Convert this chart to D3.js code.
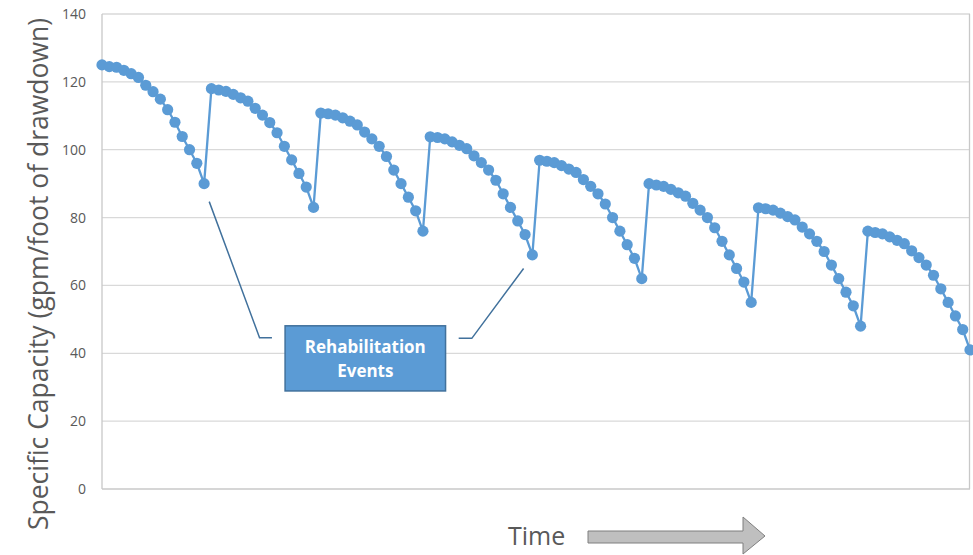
<!DOCTYPE html>
<html>
<head>
<meta charset="utf-8">
<script src="https://cdn.jsdelivr.net/npm/d3@7"></script>
<style>
  html, body { margin: 0; padding: 0; background: #fff; }
  svg { display: block; }
</style>
</head>
<body>
<svg id="chart" width="973" height="555"></svg>
<script>
// Specific capacity readings, one per time step; each group of 15 is one
// decline period that ends just before a rehabilitation event.
const capacity = [
  125.0, 124.5, 124.3, 123.4, 122.4, 121.3, 119.0, 117.1, 114.9, 111.8, 108.1, 103.9, 100.0, 96.0, 90.0,
  118.0, 117.6, 117.2, 116.3, 115.3, 114.3, 112.2, 110.2, 108.0, 105.0, 101.0, 97.0, 93.0, 89.0, 83.0,
  110.8, 110.6, 110.2, 109.4, 108.4, 107.3, 105.2, 103.2, 101.0, 98.0, 94.0, 90.0, 86.0, 82.0, 76.0,
  103.8, 103.6, 103.2, 102.3, 101.3, 100.3, 98.2, 96.2, 94.0, 91.0, 87.0, 83.0, 79.0, 75.0, 69.0,
  96.9, 96.6, 96.2, 95.3, 94.3, 93.3, 91.2, 89.2, 87.0, 84.0, 80.0, 76.0, 72.0, 68.0, 62.0,
  90.0, 89.6, 89.2, 88.3, 87.3, 86.3, 84.2, 82.2, 80.0, 77.0, 73.0, 69.0, 65.0, 61.0, 55.0,
  82.9, 82.6, 82.2, 81.3, 80.3, 79.3, 77.2, 75.2, 73.0, 70.0, 66.0, 62.0, 58.0, 54.0, 48.0,
  76.0, 75.6, 75.2, 74.3, 73.3, 72.3, 70.2, 68.2, 66.0, 63.0, 59.0, 55.0, 51.0, 47.0, 41.0
];

const yTicks = [0, 20, 40, 60, 80, 100, 120, 140];
const yTitle = "Specific Capacity (gpm/foot of drawdown)";
const xTitle = "Time";
const calloutLines = ["Rehabilitation", "Events"];

// Callout geometry in data units (time step, capacity)
const calloutBox = { x0: 25.1, x1: 47.1, y0: 28.9, y1: 48.1 };
const leaderLeft = [[14.7, 84.7], [21.6, 44.6], [23.3, 44.6]];
const leaderRight = [[48.9, 44.4], [50.7, 44.4], [57.8, 65.0]];

const svg = d3.select("#chart");
const plot = { left: 102, right: 970, top: 14, bottom: 489 };

const x = d3.scaleLinear().domain([0, capacity.length - 1]).range([plot.left, plot.right]);
const y = d3.scaleLinear().domain([0, 140]).range([plot.bottom, plot.top]);

const blue = "#5b9bd5";
const darkBlue = "#41719c";
const textGrey = "#595959";

// Horizontal gridlines
svg.append("g")
  .selectAll("line")
  .data(yTicks)
  .join("line")
  .attr("x1", plot.left).attr("x2", plot.right)
  .attr("y1", d => y(d)).attr("y2", d => y(d))
  .attr("stroke", d => d === 0 ? "#c8c8c8" : "#d9d9d9")
  .attr("stroke-width", 1.3);

// Plot frame sides
svg.append("line")
  .attr("x1", plot.left).attr("x2", plot.left)
  .attr("y1", plot.top).attr("y2", plot.bottom)
  .attr("stroke", "#c8c8c8").attr("stroke-width", 1.3);
svg.append("line")
  .attr("x1", plot.right - 0.5).attr("x2", plot.right - 0.5)
  .attr("y1", plot.top).attr("y2", plot.bottom)
  .attr("stroke", "#c8c8c8").attr("stroke-width", 1.3);

// Y axis tick labels
const yAxis = d3.axisLeft(y).tickValues(yTicks).tickSize(0).tickPadding(16);
const yAxisG = svg.append("g")
  .attr("transform", `translate(${plot.left},0)`)
  .call(yAxis);
yAxisG.select(".domain").remove();
yAxisG.selectAll("text")
  .attr("font-family", "'Open Sans', sans-serif")
  .attr("font-size", 14)
  .attr("fill", textGrey);

// Y axis title
svg.append("text")
  .attr("transform", "translate(48,274) rotate(-90)")
  .attr("text-anchor", "middle")
  .attr("font-family", "'Open Sans', sans-serif")
  .attr("font-size", 26.5)
  .attr("fill", textGrey)
  .text(yTitle);

// Series line and markers
const line = d3.line().x((d, i) => x(i)).y(d => y(d));
svg.append("path")
  .datum(capacity)
  .attr("d", line)
  .attr("fill", "none")
  .attr("stroke", blue)
  .attr("stroke-width", 2.3);

svg.append("g")
  .selectAll("circle")
  .data(capacity)
  .join("circle")
  .attr("cx", (d, i) => x(i))
  .attr("cy", d => y(d))
  .attr("r", 5.6)
  .attr("fill", blue);

// Leader lines to the callout
const leader = d3.line().x(d => x(d[0])).y(d => y(d[1]));
[leaderLeft, leaderRight].forEach(pts => {
  svg.append("path")
    .attr("d", leader(pts))
    .attr("fill", "none")
    .attr("stroke", darkBlue)
    .attr("stroke-width", 1.5);
});

// Callout box
const bx0 = x(calloutBox.x0), bx1 = x(calloutBox.x1);
const by0 = y(calloutBox.y1), by1 = y(calloutBox.y0);
svg.append("rect")
  .attr("x", bx0).attr("y", by0)
  .attr("width", bx1 - bx0).attr("height", by1 - by0)
  .attr("fill", blue)
  .attr("stroke", darkBlue)
  .attr("stroke-width", 1.5);

svg.append("g")
  .selectAll("text")
  .data(calloutLines)
  .join("text")
  .attr("x", (bx0 + bx1) / 2)
  .attr("y", (d, i) => 353 + i * 24)
  .attr("text-anchor", "middle")
  .attr("font-family", "'Open Sans', sans-serif")
  .attr("font-weight", 700)
  .attr("font-size", 17)
  .attr("fill", "#ffffff")
  .text(d => d);

// Time label with arrow
svg.append("text")
  .attr("x", 508)
  .attr("y", 545)
  .attr("font-family", "'Open Sans', sans-serif")
  .attr("font-size", 25)
  .attr("fill", textGrey)
  .text(xTitle);

const arrow = [[588, 531], [743, 531], [743, 517], [765, 536], [743, 554], [743, 543], [588, 543]];
svg.append("polygon")
  .attr("points", arrow.map(p => p.join(",")).join(" "))
  .attr("fill", "#bfbfbf")
  .attr("stroke", "#7f7f7f")
  .attr("stroke-width", 1);
</script>
</body>
</html>
